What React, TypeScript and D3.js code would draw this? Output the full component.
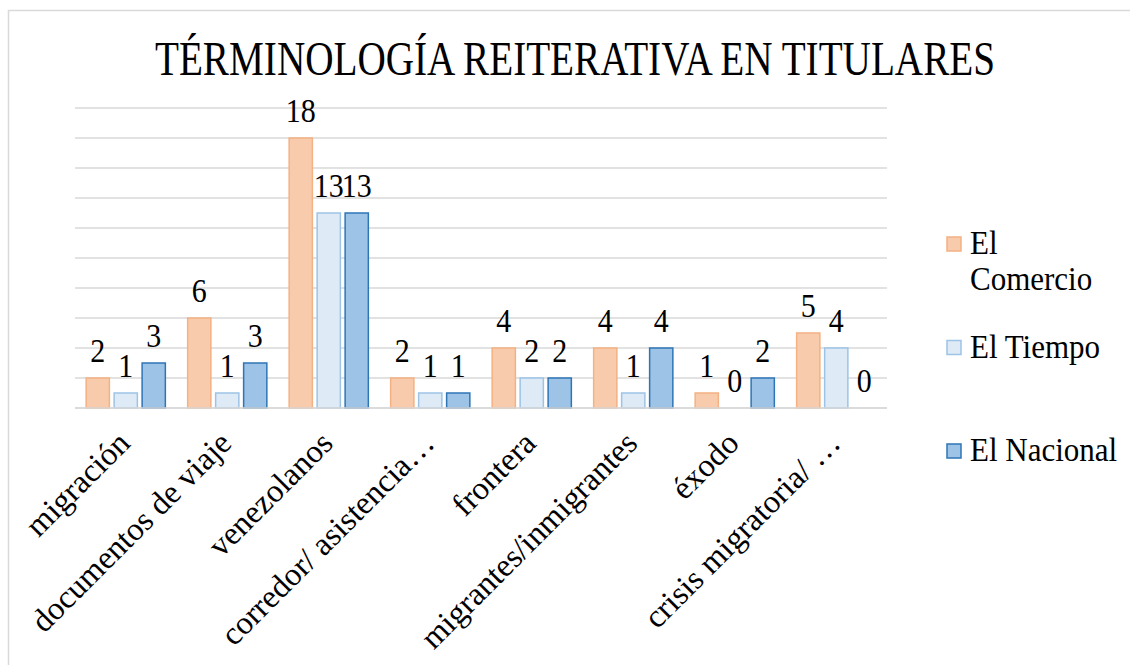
import React, { useLayoutEffect, useRef, useState } from "react";
import * as d3 from "d3";

const categories = [
  "migración",
  "documentos de viaje",
  "venezolanos",
  "corredor/ asistencia…",
  "frontera",
  "migrantes/inmigrantes",
  "éxodo",
  "crisis migratoria/ …",
];
const seriesNames = ["El Comercio", "El Tiempo", "El Nacional"];
const elComercio = [2, 6, 18, 2, 4, 4, 1, 5];
const elTiempo = [1, 1, 13, 1, 2, 1, 0, 4];
const elNacional = [3, 3, 13, 1, 2, 4, 2, 0];
const yTicks = [0, 2, 4, 6, 8, 10, 12, 14, 16, 18, 20];
const legendLines = [["El", "Comercio"], ["El Tiempo"], ["El Nacional"]];
const title = "TÉRMINOLOGÍA REITERATIVA EN TITULARES";

const fills = ["#F8CBAD", "#DEEBF7", "#9DC3E6"];
const strokes = ["#F4B183", "#9DC3E6", "#2E75B6"];
const FONT = "'Liberation Serif', 'Times New Roman', serif";

export default function App() {
  const W = 1130, H = 665;
  const left = 75, right = 887, top = 108, bottom = 408;
  const values = [elComercio, elTiempo, elNacional];
  const titleRef = useRef<SVGTextElement>(null);
  const [titleScale, setTitleScale] = useState(0.8);

  useLayoutEffect(() => {
    if (titleRef.current) {
      const w = titleRef.current.getComputedTextLength();
      if (w > 0) setTitleScale(840 / w);
    }
  }, []);

  const y = d3.scaleLinear().domain([0, 20]).range([bottom, top]);
  const x0 = d3.scaleBand<string>().domain(categories).range([left, right]).padding(0);
  const groupW = 79.2;
  const x1 = d3.scaleBand<string>().domain(seriesNames).range([0, groupW]).paddingInner(0.17).paddingOuter(0);
  const off = (x0.bandwidth() - groupW) / 2;

  return (
    <svg width={W} height={H} style={{ position: "absolute", left: 0, top: 0, background: "#fff" }}>
      <rect x={8.5} y={10.5} width={1200} height={800} fill="#fff" stroke="#d9d9d9" strokeWidth={1.5} />
      <text
        ref={titleRef}
        transform={`translate(575,75) scale(${titleScale},1)`}
        textAnchor="middle"
        fontFamily={FONT}
        fontSize={48}
        fill="#000"
      >
        {title}
      </text>
      {yTicks.map((t) => (
        <line key={t} x1={left} x2={right} y1={y(t)} y2={y(t)} stroke="#d9d9d9" strokeWidth={1.5} />
      ))}
      {categories.map((c, i) => (
        <g key={c}>
          {seriesNames.map((s, j) => {
            const v = values[j][i];
            const bx = (x0(c) as number) + off + (x1(s) as number);
            const bw = x1.bandwidth();
            return (
              <g key={s}>
                {v > 0 && (
                  <rect
                    x={bx}
                    y={y(v)}
                    width={bw}
                    height={bottom - y(v)}
                    fill={fills[j]}
                    stroke={strokes[j]}
                    strokeWidth={1.5}
                  />
                )}
                <text
                  transform={`translate(${bx + bw / 2},${y(v) - 16}) scale(1,1.12)`}
                  textAnchor="middle"
                  fontFamily={FONT}
                  fontSize={30}
                  fill="#000"
                >
                  {v}
                </text>
              </g>
            );
          })}
        </g>
      ))}
      <line x1={left} x2={right} y1={bottom} y2={bottom} stroke="#d9d9d9" strokeWidth={1.5} />
      {categories.map((c) => {
        const cx = (x0(c) as number) + x0.bandwidth() / 2 + 6;
        const cy = 445;
        return (
          <text
            key={c}
            x={cx}
            y={cy}
            textAnchor="end"
            transform={`rotate(-45, ${cx}, ${cy})`}
            fontFamily={FONT}
            fontSize={32.5}
            fill="#000"
          >
            {c}
          </text>
        );
      })}
      {legendLines.map((lines, j) => {
        const by = 254 + j * 103.5;
        return (
          <g key={j}>
            <rect x={947} y={by - 17} width={14} height={14} fill={fills[j]} stroke={strokes[j]} strokeWidth={1.5} />
            {lines.map((l, k) => (
              <text
                key={k}
                transform={`translate(970,${by + k * 36}) scale(1,1.06)`}
                fontFamily={FONT}
                fontSize={31}
                fill="#000"
              >
                {l}
              </text>
            ))}
          </g>
        );
      })}
    </svg>
  );
}
